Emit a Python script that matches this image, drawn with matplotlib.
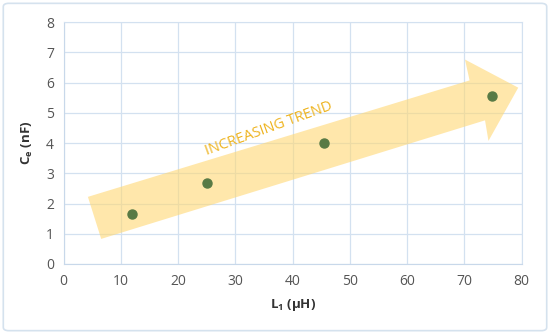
import matplotlib
matplotlib.use("Agg")
import matplotlib.pyplot as plt
from matplotlib.patches import Polygon, FancyBboxPatch

# Data
L1 = [11.9, 25.1, 45.5, 74.8]
Ce = [1.65, 2.68, 3.99, 5.55]
x_ticks = [0, 10, 20, 30, 40, 50, 60, 70, 80]
y_ticks = [0, 1, 2, 3, 4, 5, 6, 7, 8]
# trend arrow outline (data coords)
arrow_x = [6.55, 4.23, 70.9, 70.1, 79.4, 74.2, 73.6]
arrow_y = [0.83, 2.22, 6.07, 6.76, 5.83, 4.07, 4.75]
annotation = "INCREASING TREND"

plt.rcParams['font.family'] = ['Open Sans', 'DejaVu Sans']
plt.rcParams['mathtext.fontset'] = 'custom'
plt.rcParams['mathtext.rm'] = 'Open Sans'
plt.rcParams['mathtext.bf'] = 'Open Sans:bold'

fig = plt.figure(figsize=(5.5, 3.34), dpi=100)
border = FancyBboxPatch((0.006, 0.01), 0.988, 0.98, boxstyle="round,pad=0,rounding_size=0.01",
                        transform=fig.transFigure, fill=False, edgecolor="#D5E2EE", linewidth=1.2)
fig.patches.append(border)

ax = fig.add_axes([0.1158, 0.2096, 0.8327, 0.7244])
ax.set_xlim(0, 80)
ax.set_ylim(0, 8)
ax.set_xticks(x_ticks)
ax.set_yticks(y_ticks)
ax.grid(True, color="#D3E1F0", linewidth=0.9)
ax.set_axisbelow(True)
for s in ["top", "right"]:
    ax.spines[s].set_color("#D3E1F0")
for s in ["left", "bottom"]:
    ax.spines[s].set_color("#C8D8EA")
ax.tick_params(length=0, labelsize=10, colors="#555555", pad=7)

poly = Polygon(list(zip(arrow_x, arrow_y)), closed=True, facecolor="#FFD873", alpha=0.6,
               edgecolor="none", zorder=2)
ax.add_patch(poly)

ax.text(35.9, 4.48, annotation, rotation=20, rotation_mode="anchor", ha="center", va="center",
        color="#EEB420", fontsize=10.5, zorder=3)

ax.plot(L1, Ce, "o", color="#587A45", markersize=6.5, zorder=4)

ax.set_xlabel("L$_\\mathbf{1}$ (μH)", fontsize=9.5, fontweight="bold", color="#333333", labelpad=6)
ax.set_ylabel("C$_\\mathbf{e}$ (nF)", fontsize=9.5, fontweight="bold", color="#333333", labelpad=8)

fig.savefig("out.png", dpi=100)
